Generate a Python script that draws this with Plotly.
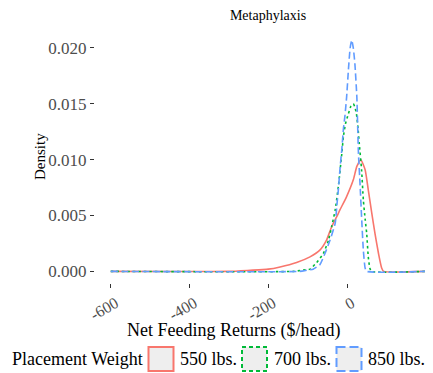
import plotly.graph_objects as go

# ---------------- data ----------------
series_names = ["550 lbs.", "700 lbs.", "850 lbs."]

x_550 = [-600, -300, -246, -200, -170, -128, -94, -69, -52, -39, -26, -18, -1, 16, 25, 35,
         46, 54, 63, 71, 80, 88, 93, 200]
y_550 = [0, 0, 0.0001, 0.0002, 0.0004, 0.0008, 0.0013, 0.0019, 0.0028, 0.0040, 0.0049, 0.0055,
         0.0067, 0.0082, 0.0094, 0.0100, 0.0091, 0.0073, 0.0052, 0.0034, 0.0016, 0.0003, 0, 0]

x_700 = [-600, -135, -115, -94, -77, -60, -47, -39, -30, -22, -13, -9, -4, 3.5, 10, 16, 20, 24,
         28, 31, 37, 41.5, 46, 50, 54, 58, 62, 200]
y_700 = [0, 0, 0.0001, 0.0002, 0.0008, 0.0016, 0.0028, 0.0040, 0.0055, 0.0076, 0.0106, 0.0121,
         0.0132, 0.0141, 0.0148, 0.0150, 0.0147, 0.0141, 0.0128, 0.0115, 0.0091, 0.0064, 0.0047,
         0.0034, 0.0013, 0.0003, 0, 0]

x_850 = [-600, -120, -102, -86, -69, -56, -43, -30, -26, -22, -18, -13, -9, -5, -1, 3.5, 8, 12,
         16, 20, 25, 29, 33, 37, 41.5, 46, 50, 200]
y_850 = [0, 0, 0.0001, 0.0002, 0.0006, 0.0016, 0.0028, 0.0043, 0.0058, 0.0073, 0.0091, 0.0110,
         0.0128, 0.0140, 0.0156, 0.0180, 0.0200, 0.0207, 0.0200, 0.0186, 0.0156, 0.0106, 0.0079,
         0.0049, 0.0019, 0.0003, 0, 0]

x_tickvals = [-600, -400, -200, 0, 200]
x_ticktext = ["-600", "-400", "-200", "0", "200"]
y_tickvals = [0, 0.005, 0.010, 0.015, 0.020]
y_ticktext = ["0.000", "0.005", "0.010", "0.015", "0.020"]

title_text = "Metaphylaxis"
x_title = "Net Feeding Returns ($/head)"
y_title = "Density"
legend_title = "Placement Weight"

# ---------------- styling ----------------
# the page body has an 8px margin, so the figure is sized to fill the rest of the window
OFF = 8
W, H = 433 - OFF, 373 - OFF
ML, MR, MT, MB = 95 - OFF, 0, 29 - OFF, 90
PW, PH = W - ML - MR, H - MT - MB
FONT = "Liberation Serif"
colors = ["#F8766D", "#00BA38", "#619CFF"]
dashes = ["solid", "2.5px,3px", "7px,3.5px"]
box_dashes = ["solid", "4px,3px", "9px,4px"]


def px_x(px):
    """screen x (window pixels) -> paper x"""
    return (px - OFF - ML) / PW


def px_y(py):
    """screen y (window pixels) -> paper y"""
    return (H - MB - (py - OFF)) / PH


fig = go.Figure()
for xs, ys, name, c, d in zip([x_550, x_700, x_850], [y_550, y_700, y_850],
                              series_names, colors, dashes):
    fig.add_trace(go.Scatter(x=xs, y=ys, mode="lines", name=name, showlegend=False,
                             line=dict(color=c, width=1.6, dash=d, shape="spline", smoothing=0.5)))

fig.update_layout(
    width=W, height=H,
    margin=dict(l=ML, r=MR, t=MT, b=MB, autoexpand=False),
    paper_bgcolor="white", plot_bgcolor="white",
    font=dict(family=FONT, color="black"),
    showlegend=False,
    title=dict(text=title_text, font=dict(size=14, family=FONT, color="black"),
               xref="paper", x=px_x(268), xanchor="center",
               yref="container", y=1 - (15 - OFF) / H, yanchor="middle"),
)

fig.update_xaxes(range=[-640, 218.4], showgrid=False, zeroline=False, showline=False,
                 automargin=False,
                 tickmode="array", tickvals=x_tickvals, ticktext=x_ticktext,
                 ticks="outside", ticklen=4, tickwidth=1, tickcolor="#333333",
                 tickangle=-30, ticklabelshift=5,
                 tickfont=dict(size=16, family=FONT, color="#4D4D4D"))
fig.update_yaxes(range=[-0.00104, 0.0217], showgrid=False, zeroline=False, showline=False,
                 automargin=False,
                 tickmode="array", tickvals=y_tickvals, ticktext=y_ticktext,
                 ticks="outside", ticklen=4, tickwidth=1, tickcolor="#333333",
                 tickfont=dict(size=17, family=FONT, color="#4D4D4D"))

# axis titles
fig.add_annotation(text=x_title, xref="paper", yref="paper", x=px_x(233.5), y=px_y(330),
                   xanchor="center", yanchor="middle", showarrow=False,
                   font=dict(size=18, family=FONT, color="black"))
fig.add_annotation(text=y_title, xref="paper", yref="paper", x=px_x(40), y=px_y(157),
                   xanchor="center", yanchor="middle", showarrow=False, textangle=-90,
                   font=dict(size=15, family=FONT, color="black"))

# legend (drawn manually, ggplot style)
leg_y = 359
fig.add_annotation(text=legend_title, xref="paper", yref="paper", x=px_x(10), y=px_y(leg_y),
                   xanchor="left", yanchor="middle", showarrow=False,
                   font=dict(size=18, family=FONT, color="black"))
box_left = [148.5, 242, 336.5]
label_left = [178, 271.5, 366]
for name, c, bd, bl, ll in zip(series_names, colors, box_dashes, box_left, label_left):
    fig.add_shape(type="rect", xref="paper", yref="paper",
                  x0=px_x(bl), x1=px_x(bl + 25), y0=px_y(leg_y - 12), y1=px_y(leg_y + 12),
                  fillcolor="#EEEEEE", line=dict(color=c, width=2, dash=bd))
    fig.add_annotation(text=name, xref="paper", yref="paper", x=px_x(ll), y=px_y(leg_y),
                       xanchor="left", yanchor="middle", showarrow=False,
                       font=dict(size=18, family=FONT, color="black"))

fig.write_html("out.html")
